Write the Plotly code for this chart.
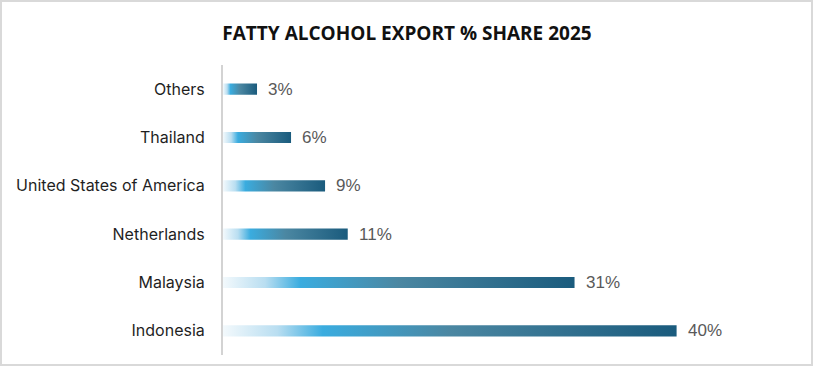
import plotly.graph_objects as go

countries = ["Others", "Thailand", "United States of America", "Netherlands", "Malaysia", "Indonesia"]
shares = [3, 6, 9, 11, 31, 40]
value_labels = ["3%", "6%", "9%", "11%", "31%", "40%"]
title_text = "FATTY ALCOHOL EXPORT % SHARE 2025"

W, H = 814, 368
ML, MR, MT, MB = 223, 24, 65, 13
PW, PH = W - ML - MR, H - MT - MB

gradient = [[0.0, "#f3f9fc"], [0.12, "#b9def1"], [0.22, "#3aacdf"],
            [0.5, "#4b87a2"], [1.0, "#1a5b7d"]]
half = 0.115
n = len(countries)
ypos = [n - 1 - i for i in range(n)]

fig = go.Figure()
for c, v, y in zip(countries, shares, ypos):
    fig.add_trace(go.Scatter(
        x=[0, v, v, 0, 0],
        y=[y - half, y - half, y + half, y + half, y - half],
        mode="lines", fill="toself", line=dict(width=0),
        fillgradient=dict(type="horizontal", colorscale=gradient, start=0, stop=v),
        hoverinfo="skip", showlegend=False, name=c,
    ))

for v, y, lab in zip(shares, ypos, value_labels):
    fig.add_annotation(x=v, y=y, text=lab, showarrow=False, xanchor="left",
                       xshift=9, font=dict(family="Liberation Sans", size=17, color="#595959"))

fig.add_shape(type="rect", xref="paper", yref="paper",
              x0=(1 - ML) / PW, x1=(W - 2 - ML) / PW,
              y0=(H - MB - (H - 3)) / PH, y1=(H - MB - 1) / PH,
              line=dict(color="#d9d9d9", width=2), fillcolor="rgba(0,0,0,0)", layer="below")

fig.update_layout(
    width=W, height=H,
    margin=dict(l=ML, r=MR, t=MT, b=MB),
    paper_bgcolor="white", plot_bgcolor="white",
    title=dict(text="<b>" + title_text + "</b>", x=0.5, xanchor="center", y=1 - 33 / H, yanchor="middle",
               font=dict(family="Open Sans", size=19, color="#111111")),
    xaxis=dict(range=[0, 50], showgrid=False, zeroline=False, showticklabels=False, showline=False),
    yaxis=dict(range=[-0.5, n - 0.5], tickmode="array", tickvals=ypos, ticktext=countries,
               showgrid=False, zeroline=False, showline=True, linecolor="#d3d3d3", linewidth=2,
               ticks="", ticklabelstandoff=13,
               tickfont=dict(family="Inter", size=16, color="#1f1f1f")),
)

fig.write_html("out.html", config={"displayModeBar": False},
               post_script="document.body.style.margin='0';document.body.style.overflow='hidden';")
